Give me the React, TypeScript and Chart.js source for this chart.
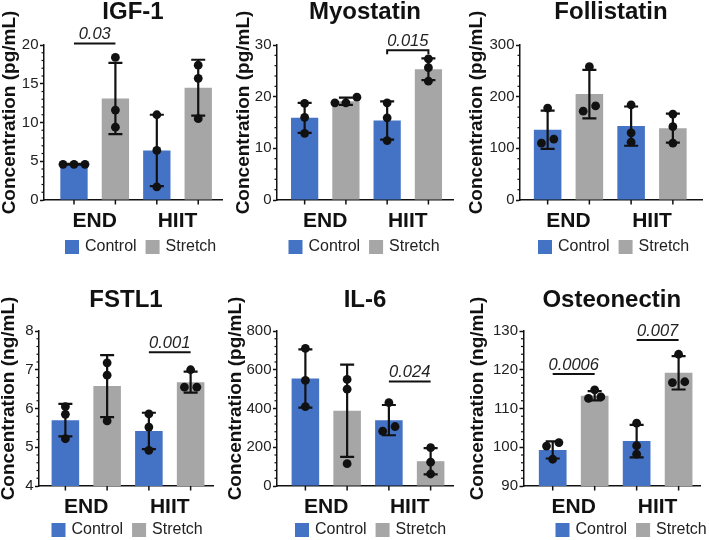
import React, { useEffect, useRef } from "react";
import { Chart, registerables } from "chart.js";

Chart.register(...registerables);

const FONT = '"Liberation Sans", Arial, Helvetica, sans-serif';
const BLUE = "#4472C4";
const GRAY = "#A6A6A6";
const INK = "#111111";

const categories = ["END", "HIIT"];
const seriesNames = ["Control", "Stretch"];

// ---------- IGF-1 (pg/mL) ----------
const igfControlMean = [4.6, 6.4];
const igfControlSD = [0.05, 4.6];
const igfControlDots = [[4.6, 4.6, 4.6], [11.0, 6.4, 1.7]];
const igfStretchMean = [13.1, 14.5];
const igfStretchSD = [4.6, 3.6];
const igfStretchDots = [[18.4, 11.6, 9.4], [17.4, 15.7, 10.5]];

// ---------- Myostatin (pg/mL) ----------
const myoControlMean = [15.9, 15.4];
const myoControlSD = [2.9, 3.7];
const myoControlDots = [[18.7, 16.0, 12.9], [18.8, 15.9, 11.5]];
const myoStretchMean = [19.1, 25.3];
const myoStretchSD = [0.7, 2.1];
const myoStretchDots = [[19.9, 18.8, 18.8], [27.3, 25.6, 23.0]];

// ---------- Follistatin (pg/mL) ----------
const folControlMean = [136, 143];
const folControlSD = [37, 38];
const folControlDots = [[178, 110, 118], [184, 130, 112]];
const folStretchMean = [205, 139];
const folStretchSD = [47, 28];
const folStretchDots = [[258, 172, 182], [166, 142, 110]];

// ---------- FSTL1 (ng/mL) ----------
const fstControlMean = [5.7, 5.42];
const fstControlSD = [0.42, 0.47];
const fstControlDots = [[6.05, 5.85, 5.22], [5.86, 5.52, 4.92]];
const fstStretchMean = [6.58, 6.68];
const fstStretchSD = [0.8, 0.27];
const fstStretchDots = [[7.18, 6.86, 5.68], [7.0, 6.55, 6.55]];

// ---------- IL-6 (pg/mL) ----------
const il6ControlMean = [555, 340];
const il6ControlSD = [150, 78];
const il6ControlDots = [[710, 545, 410], [430, 283, 307]];
const il6StretchMean = [388, 128];
const il6StretchSD = [238, 68];
const il6StretchDots = [[550, 500, 115], [198, 123, 62]];

// ---------- Osteonectin (ng/mL) ----------
const ostControlMean = [99.3, 101.6];
const ostControlSD = [2.2, 4.2];
const ostControlDots = [[101.2, 100.3, 96.9], [106.2, 100.4, 98.2]];
const ostStretchMean = [113.3, 119.2];
const ostStretchSD = [1.2, 4.3];
const ostStretchDots = [[114.8, 112.6, 113.0], [124.0, 116.7, 116.9]];

type Series = { name: string; color: string; mean: number[]; sd: number[]; dots: number[][] };
type Sig = { a: [number, number]; b: [number, number]; y: number; label: string; bracket?: boolean };
type PanelCfg = {
  title: string;
  yTitle: string;
  min: number;
  max: number;
  step: number;
  minor: number;
  series: Series[];
  sig: Sig[];
  left: number;
  top: number;
  width: number;
  yW: number;
  padR: number;
  xMin: number;
  xMax: number;
  titleTop: number;
  titleBottom: number;
  padB: number;
  yTitleDx: number;
  legendDx: number;
  legendDy: number;
};

const mk = (mean: number[][], sd: number[][], dots: number[][][]): Series[] =>
  seriesNames.map((name, i) => ({ name, color: i === 0 ? BLUE : GRAY, mean: mean[i], sd: sd[i], dots: dots[i] }));

const ROW0 = { top: 0, titleTop: 0, titleBottom: 21, padB: 35, legendDy: 47 };
const ROW1 = { top: 270, titleTop: 18, titleBottom: 19, padB: 19, legendDy: 44 };

const panels: PanelCfg[] = [
  {
    title: "IGF-1", yTitle: "Concentration (pg/mL)", min: 0, max: 20, step: 5, minor: 1,
    series: mk([igfControlMean, igfStretchMean], [igfControlSD, igfStretchSD], [igfControlDots, igfStretchDots]),
    sig: [{ a: [0, 0], b: [1, 0], y: 20.2, label: "0.03" }],
    left: 0, width: 236, yW: 44, padR: 14, xMin: -0.612, xMax: 1.537, yTitleDx: 34.5, legendDx: 21, ...ROW0,
  },
  {
    title: "Myostatin", yTitle: "Concentration (pg/mL)", min: 0, max: 30, step: 10, minor: 2,
    series: mk([myoControlMean, myoStretchMean], [myoControlSD, myoStretchSD], [myoControlDots, myoStretchDots]),
    sig: [{ a: [0, 1], b: [1, 1], y: 29.0, label: "0.015", bracket: true }],
    left: 222, width: 250, yW: 55, padR: 19, xMin: -0.585, xMax: 1.548, yTitleDx: 33.5, legendDx: 11.5, ...ROW0,
  },
  {
    title: "Follistatin", yTitle: "Concentration (pg/mL)", min: 0, max: 300, step: 100, minor: 20,
    series: mk([folControlMean, folStretchMean], [folControlSD, folStretchSD], [folControlDots, folStretchDots]),
    sig: [],
    left: 462, width: 247, yW: 58, padR: 7, xMin: -0.581, xMax: 1.599, yTitleDx: 43, legendDx: 18, ...ROW0,
  },
  {
    title: "FSTL1", yTitle: "Concentration (ng/mL)", min: 4, max: 8, step: 1, minor: 0.2,
    series: mk([fstControlMean, fstStretchMean], [fstControlSD, fstStretchSD], [fstControlDots, fstStretchDots]),
    sig: [{ a: [0, 1], b: [1, 1], y: 7.45, label: "0.001" }],
    left: 0, width: 236, yW: 39, padR: 23, xMin: -0.566, xMax: 1.518, yTitleDx: 30, legendDx: 12.5, ...ROW1,
  },
  {
    title: "IL-6", yTitle: "Concentration (pg/mL)", min: 0, max: 800, step: 200, minor: 40,
    series: mk([il6ControlMean, il6StretchMean], [il6ControlSD, il6StretchSD], [il6ControlDots, il6StretchDots]),
    sig: [{ a: [0, 1], b: [1, 1], y: 540, label: "0.024" }],
    left: 222, width: 250, yW: 55, padR: 19, xMin: -0.59, xMax: 1.518, yTitleDx: 41, legendDx: 18, ...ROW1,
  },
  {
    title: "Osteonectin", yTitle: "Concentration (ng/mL)", min: 90, max: 130, step: 10, minor: 2,
    series: mk([ostControlMean, ostStretchMean], [ostControlSD, ostStretchSD], [ostControlDots, ostStretchDots]),
    sig: [
      { a: [0, 0], b: [1, 0], y: 118.9, label: "0.0006" },
      { a: [0, 1], b: [1, 1], y: 127.7, label: "0.007" },
    ],
    left: 462, width: 247, yW: 61.5, padR: 9, xMin: -0.598, xMax: 1.505, yTitleDx: 46, legendDx: 32, ...ROW1,
  },
];

// spread overlapping dots sideways (lower values to the left)
function jitter(py: number[]): number[] {
  const idx = py.map((_, i) => i).sort((a, b) => py[b] - py[a]);
  const offs = py.map(() => 0);
  let cluster: number[] = [idx[0]];
  const flush = () => {
    const n = cluster.length;
    const step = n === 2 ? 12.4 : 11;
    cluster.forEach((k, j) => (offs[k] = (j - (n - 1) / 2) * step));
  };
  for (let j = 1; j < idx.length; j++) {
    if (Math.abs(py[idx[j]] - py[idx[j - 1]]) < 6) cluster.push(idx[j]);
    else {
      flush();
      cluster = [idx[j]];
    }
  }
  flush();
  return offs;
}

function makeDecor(p: PanelCfg) {
  return {
    id: "decor",
    afterDatasetsDraw(chart: any) {
      const ctx = chart.ctx as CanvasRenderingContext2D;
      const ys = chart.scales.y;
      const area = chart.chartArea;
      ctx.save();
      ctx.strokeStyle = INK;
      ctx.fillStyle = INK;
      // minor y ticks
      ctx.lineWidth = 1.2;
      const n = Math.round((p.max - p.min) / p.minor);
      for (let k = 0; k <= n; k++) {
        const v = p.min + k * p.minor;
        const r = v / p.step;
        if (Math.abs(r - Math.round(r)) < 1e-6) continue;
        const yy = ys.getPixelForValue(v);
        ctx.beginPath();
        ctx.moveTo(area.left - 2.5, yy);
        ctx.lineTo(area.left, yy);
        ctx.stroke();
      }
      p.series.forEach((s, di) => {
        const meta = chart.getDatasetMeta(di);
        meta.data.forEach((el: any, ci: number) => {
          const cx = el.x;
          // x tick mark under each bar
          ctx.lineWidth = 1.5;
          ctx.beginPath();
          ctx.moveTo(cx, area.bottom);
          ctx.lineTo(cx, area.bottom + 4.5);
          ctx.stroke();
          // error bar (SD)
          const m = s.mean[ci];
          const sd = s.sd[ci];
          const yt = ys.getPixelForValue(m + sd);
          const yb = ys.getPixelForValue(m - sd);
          ctx.lineWidth = 2.2;
          ctx.beginPath();
          ctx.moveTo(cx, yt);
          ctx.lineTo(cx, yb);
          ctx.moveTo(cx - 7, yt);
          ctx.lineTo(cx + 7, yt);
          ctx.moveTo(cx - 7, yb);
          ctx.lineTo(cx + 7, yb);
          ctx.stroke();
          // individual points
          const py = s.dots[ci].map((v) => ys.getPixelForValue(v));
          const off = jitter(py);
          py.forEach((yy, k) => {
            ctx.beginPath();
            ctx.arc(cx + off[k], yy, 4.4, 0, Math.PI * 2);
            ctx.fill();
          });
        });
      });
      // significance annotations
      p.sig.forEach((sg) => {
        const x1 = chart.getDatasetMeta(sg.a[0]).data[sg.a[1]].x;
        const x2 = chart.getDatasetMeta(sg.b[0]).data[sg.b[1]].x;
        const yy = ys.getPixelForValue(sg.y);
        ctx.lineWidth = 2;
        ctx.beginPath();
        if (sg.bracket) {
          ctx.moveTo(x1, yy + 4);
          ctx.lineTo(x1, yy);
          ctx.lineTo(x2, yy);
          ctx.lineTo(x2, yy + 4);
        } else {
          ctx.moveTo(x1, yy);
          ctx.lineTo(x2, yy);
        }
        ctx.stroke();
        ctx.font = `italic 16.5px ${FONT}`;
        ctx.textAlign = "center";
        ctx.textBaseline = "alphabetic";
        ctx.fillStyle = "#222";
        ctx.fillText(sg.label, (x1 + x2) / 2, yy - 4);
        ctx.fillStyle = INK;
      });
      ctx.restore();
    },
    afterDraw(chart: any) {
      const ctx = chart.ctx as CanvasRenderingContext2D;
      const area = chart.chartArea;
      // y-axis title
      ctx.save();
      ctx.translate(area.left - p.yTitleDx, (area.top + area.bottom) / 2 - 10);
      ctx.rotate(-Math.PI / 2);
      ctx.font = `bold 19px ${FONT}`;
      ctx.fillStyle = INK;
      ctx.textAlign = "center";
      ctx.textBaseline = "middle";
      ctx.fillText(p.yTitle, 0, 0);
      ctx.restore();
      // legend
      ctx.save();
      let x = area.left + p.legendDx;
      const ly = area.bottom + p.legendDy;
      ctx.font = `16px ${FONT}`;
      ctx.textBaseline = "middle";
      ctx.textAlign = "left";
      chart.data.datasets.forEach((ds: any) => {
        ctx.fillStyle = ds.backgroundColor;
        ctx.fillRect(x, ly - 7, 14, 14);
        x += 20;
        ctx.fillStyle = "#222";
        ctx.fillText(ds.label, x, ly);
        x += ctx.measureText(ds.label).width + 9;
      });
      ctx.restore();
    },
  };
}

function Panel({ p }: { p: PanelCfg }) {
  const ref = useRef<HTMLCanvasElement>(null);
  useEffect(() => {
    const canvas = ref.current;
    if (!canvas) return;
    const chart = new Chart(canvas, {
      type: "bar",
      data: {
        datasets: p.series.map((s) => ({
          label: s.name,
          data: categories.map((_, i) => ({ x: i, y: s.mean[i] })),
          backgroundColor: s.color,
          borderWidth: 0,
          barPercentage: 0.66,
          categoryPercentage: 1.0,
        })),
      },
      options: {
        animation: false,
        responsive: false,
        devicePixelRatio: 1,
        layout: { padding: { left: 0, right: p.padR, top: 0, bottom: p.padB } },
        scales: {
          x: {
            type: "linear",
            min: p.xMin,
            max: p.xMax,
            offset: false,
            bounds: "data",
            afterBuildTicks: (scale: any) => {
              scale.ticks = categories.map((_, i) => ({ value: i }));
            },
            afterFit: (scale: any) => {
              scale.height = 35;
            },
            ticks: {
              callback: (v: any) => categories[v as number] ?? "",
              font: { family: FONT, size: 21, weight: "bold" },
              color: INK,
              padding: 8.4,
              maxRotation: 0,
              autoSkip: false,
            },
            grid: { display: false, drawTicks: false, offset: false },
            border: { color: INK, width: 1.5 },
          },
          y: {
            min: p.min,
            max: p.max,
            afterFit: (scale: any) => {
              scale.width = p.yW;
            },
            ticks: {
              stepSize: p.step,
              font: { family: FONT, size: 15 },
              color: "#222",
              padding: 1.5,
            },
            grid: { drawOnChartArea: false, drawTicks: true, tickLength: 4, tickColor: INK, tickWidth: 1.5 },
            border: { color: INK, width: 1.5 },
          },
        },
        plugins: {
          legend: { display: false },
          tooltip: { enabled: false },
          title: {
            display: true,
            text: p.title,
            fullSize: false,
            color: INK,
            font: { family: FONT, size: 24, weight: "bold", lineHeight: 1 },
            padding: { top: p.titleTop, bottom: p.titleBottom },
          },
        },
      } as any,
      plugins: [makeDecor(p)],
    });
    return () => chart.destroy();
  }, [p]);
  return (
    <canvas
      ref={ref}
      width={p.width}
      height={270}
      style={{ position: "absolute", left: p.left, top: p.top, width: p.width, height: 270 }}
    />
  );
}

export default function App() {
  return (
    <div
      style={{
        position: "absolute",
        left: 0,
        top: 0,
        width: 709,
        height: 540,
        background: "#ffffff",
        overflow: "hidden",
      }}
    >
      {panels.map((p, i) => (
        <Panel key={i} p={p} />
      ))}
    </div>
  );
}
